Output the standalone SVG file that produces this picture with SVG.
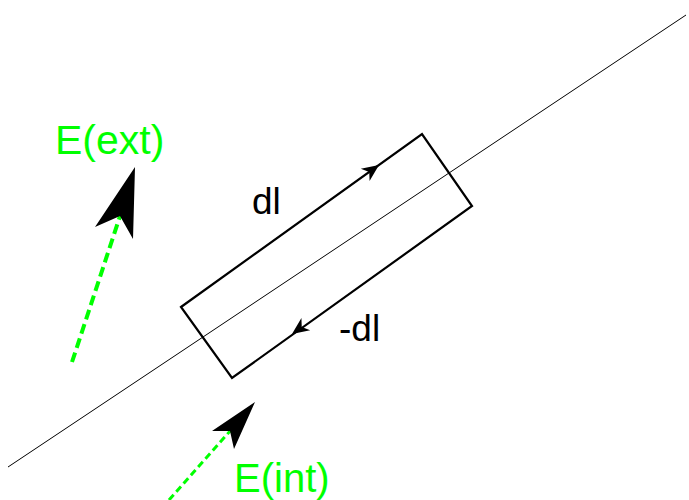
<svg xmlns="http://www.w3.org/2000/svg" width="689" height="500" viewBox="0 0 689 500">
<style>
.lbl{font-family:"Liberation Sans",Arial,sans-serif}
.g{fill:#00ff00}
.k{fill:#000}
</style>
<defs>
<path id="sa" d="M0,0 L-17,-7.5 L-12,0 L-17,7.5 Z" fill="#000"/>
</defs>
<rect width="689" height="500" fill="#fff"/>
<g id="connectors">
<line x1="8" y1="467" x2="686" y2="15" stroke="#000" stroke-width="1"/>
<g id="e-ext-arrow">
<line x1="72" y1="362" x2="121" y2="213" stroke="#00ff00" stroke-width="4" stroke-dasharray="10,5"/>
<path d="M135,167 L133,239 L120,216 L95,227 Z" fill="#000"/>
</g>
<g id="e-int-arrow">
<line x1="169" y1="500" x2="231" y2="430" stroke="#00ff00" stroke-width="3" stroke-dasharray="7,4"/>
<path d="M255,402 L234,449 L230,431 L212,431 Z" fill="#000"/>
</g>
</g>
<g id="loop">
<polygon points="181,307 422,134 472,206 232,378" fill="none" stroke="#000" stroke-width="2.2"/>
<use href="#sa" transform="translate(379,165) rotate(-35.7)"/>
<use href="#sa" transform="translate(292,334) rotate(144.3)"/>
</g>
<g id="label-dl"><text class="lbl k" x="252" y="214" font-size="37">dl</text></g>
<g id="label-mdl"><text class="lbl k" x="339" y="341" font-size="37">-dl</text></g>
<g id="label-eext"><text class="lbl g" x="55" y="154" font-size="41">E(ext)</text></g>
<g id="label-eint"><text class="lbl g" x="234" y="492" font-size="40">E(int)</text></g>
</svg>
